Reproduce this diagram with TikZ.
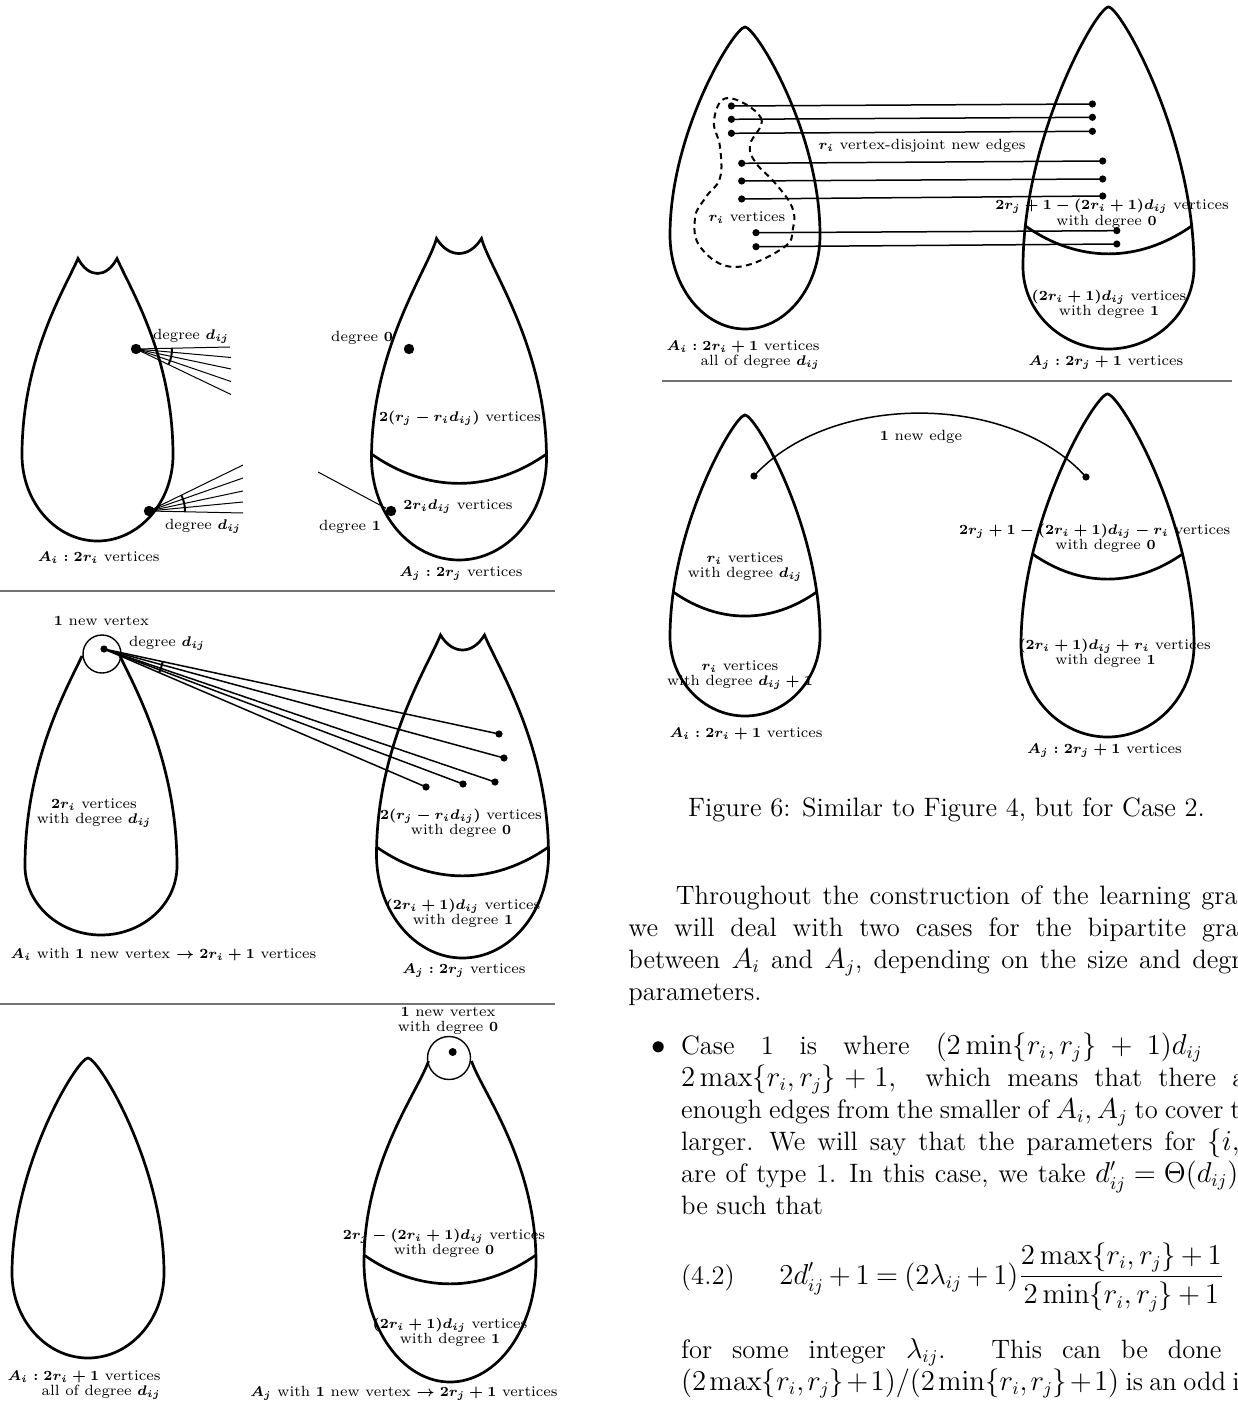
\documentclass[tikz,border=0pt]{standalone}
\usepackage{amsmath}
\usetikzlibrary{intersections}
\newcommand\bmth[1]{{\boldmath$#1$}}
% round-topped teardrop: name cx yt ym yb w
\newcommand\roundblob[6]{%
\draw[blob,name path=#1] (#2,#3)
 .. controls ({#2-0.14*#6},#3) and ({#2-#6},{#4-0.5*(#4-#3)}) .. ({#2-#6},#4)
 .. controls ({#2-#6},{#4+0.55*(#5-#4)}) and ({#2-0.55*#6},#5) .. (#2,#5)
 .. controls ({#2+0.55*#6},#5) and ({#2+#6},{#4+0.55*(#5-#4)}) .. ({#2+#6},#4)
 .. controls ({#2+#6},{#4-0.5*(#4-#3)}) and ({#2+0.14*#6},#3) .. cycle;}
% notched teardrop: name cx yt ym yb w n dx dy
\newcommand\notchblob[9]{%
\draw[blob,name path=#1] ({#2-#7},#3)
 .. controls ({#2-#7-#8},{#3+#9}) and ({#2-#6},{#4-0.5*(#4-#3)}) .. ({#2-#6},#4)
 .. controls ({#2-#6},{#4+0.55*(#5-#4)}) and ({#2-0.55*#6},#5) .. (#2,#5)
 .. controls ({#2+0.55*#6},#5) and ({#2+#6},{#4+0.55*(#5-#4)}) .. ({#2+#6},#4)
 .. controls ({#2+#6},{#4-0.5*(#4-#3)}) and ({#2+#7+#8},{#3+#9}) .. ({#2+#7},#3)
 .. controls ({#2+0.45*#7},{#3+20}) and ({#2-0.45*#7},{#3+20}) .. cycle;}
% open-topped teardrop (below a circle)
\newcommand\circblob[9]{%
\draw[blob,name path=#1] ({#2-#7},#3)
 .. controls ({#2-#7-#8},{#3+#9}) and ({#2-#6},{#4-0.5*(#4-#3)}) .. ({#2-#6},#4)
 .. controls ({#2-#6},{#4+0.55*(#5-#4)}) and ({#2-0.55*#6},#5) .. (#2,#5)
 .. controls ({#2+0.55*#6},#5) and ({#2+#6},{#4+0.55*(#5-#4)}) .. ({#2+#6},#4)
 .. controls ({#2+#6},{#4-0.5*(#4-#3)}) and ({#2+#7+#8},{#3+#9}) .. ({#2+#7},#3);}
% divider: blob name, y, cx, w
\newcommand\divider[4]{%
\path[name path=hl#1] ({#3-#4-40},#2) -- ({#3+#4+40},#2);
\path[name intersections={of=#1 and hl#1, by={#1L,#1R}, sort by=hl#1}];
\draw[blob] (#1L) to[bend right=35] (#1R);}
\tikzset{
 blob/.style={line width=1.35pt, line join=miter},
 thinline/.style={line width=0.5pt},
 edgeline/.style={line width=0.75pt},
 vbig/.style={circle,fill,inner sep=0pt,minimum size=5.2pt},
 vsmall/.style={circle,fill,inner sep=0pt,minimum size=3.6pt},
 ring/.style={circle,draw,line width=0.7pt,inner sep=0pt},
 lab/.style={font=\fontsize{7.4}{7.4}\selectfont, inner sep=0pt, align=center},
 body/.style={font=\fontsize{13.3}{16}\selectfont, inner sep=0pt, anchor=base west},
 rulestyle/.style={line width=1pt, draw=black!55},
 degarc/.style={line width=1pt},
 region/.style={line width=1pt, dash pattern=on 3pt off 2.2pt},
}
\begin{document}
\begin{tikzpicture}[x=0.5pt,y=-0.5pt]
\path[use as bounding box] (0,0) rectangle (1237,1406);
\clip (0,0) rectangle (1237,1406);

%% ---------------- Panel 1 ----------------
\notchblob{pai}{97.5}{258.5}{455}{541}{75.5}{19.5}{13}{30}
\notchblob{paj}{459}{238.5}{458}{560}{87.5}{22.5}{8}{30}
\divider{paj}{454}{459}{87.5}

\node[vbig] (u0) at (136,349) {};
\coordinate (u1) at (230,347);
\coordinate (u2) at (231,357.5);
\coordinate (u3) at (231,369);
\coordinate (u4) at (231,381.5);
\coordinate (u5) at (231,394.5);
\foreach \k in {1,...,5} \draw[thinline] (u0.center) -- (u\k);
\begin{scope}
\clip (u0.center) -- (u1) -- (u5) -- cycle;
\draw[degarc] (u0.center) circle[radius=36];
\end{scope}

\node[vbig] (l0) at (149,511) {};
\coordinate (l1) at (243,465);
\coordinate (l2) at (243,478);
\coordinate (l3) at (243,491);
\coordinate (l4) at (243,502);
\coordinate (l5) at (243,513);
\foreach \k in {1,...,5} \draw[thinline] (l0.center) -- (l\k);
\begin{scope}
\clip (l0.center) -- (l1) -- (l5) -- cycle;
\draw[degarc] (l0.center) circle[radius=36];
\end{scope}

\node[vbig] (dz) at (409,349) {};
\node[vbig] (done) at (391,511) {};
\coordinate (donefree) at (318,472);
\draw[thinline] (donefree) -- (done);

\node[lab] (lp1a) at (191,336) {degree \bmth{d_{ij}}};
\node[lab] (lp1b) at (203,526) {degree \bmth{d_{ij}}};
\node[lab] (lp1c) at (98.7,558) {\bmth{A_i : 2r_i} vertices};
\node[lab] (lp1d) at (362,338) {degree \bmth{0}};
\node[lab] (lp1e) at (460,418) {\bmth{2(r_j - r_i d_{ij})} vertices};
\node[lab] (lp1f) at (458,507) {\bmth{2r_i d_{ij}} vertices};
\node[lab] (lp1g) at (350,527) {degree \bmth{1}};
\node[lab] (lp1h) at (461,574) {\bmth{A_j : 2r_j} vertices};

\draw[rulestyle] (0,591) -- (555,591);

%% ---------------- Panel 2 ----------------
\node[ring,minimum size=19pt] (c2) at (102,654) {};
\circblob{pbi}{101}{656}{866}{935}{76}{19}{14}{30}
\notchblob{pbj}{462.5}{635}{855}{958}{86}{22}{12}{30}
\divider{pbj}{847}{462.5}{86}

\node[vsmall] (v2) at (104,649) {};
\node[vsmall] (w1) at (499,734) {};
\node[vsmall] (w2) at (504,758) {};
\node[vsmall] (w3) at (495,782) {};
\node[vsmall] (w4) at (463,784) {};
\node[vsmall] (w5) at (426,787) {};
\foreach \k in {1,...,5} \draw[edgeline] (v2.center) -- (w\k.center);
\begin{scope}
\clip (v2.center) -- (w1.center) -- (w5.center) -- cycle;
\draw[degarc] (v2.center) circle[radius=60];
\end{scope}

\node[lab] (lp2a) at (101.4,621) {\bmth{1} new vertex};
\node[lab] (lp2b) at (167,643) {degree \bmth{d_{ij}}};
\node[lab] (lp2c) at (94,813) {\bmth{2r_i} vertices\\ with degree \bmth{d_{ij}}};
\node[lab] (lp2d) at (163.5,955) {\bmth{A_i} with \bmth{1} new vertex \bmth{\rightarrow 2r_i+1} vertices};
\node[lab] (lp2e) at (461,823) {\bmth{2(r_j - r_i d_{ij})} vertices\\ with degree \bmth{0}};
\node[lab] (lp2f) at (463,913) {\bmth{(2r_i+1)d_{ij}} vertices\\ with degree \bmth{1}};
\node[lab] (lp2g) at (464,971) {\bmth{A_j : 2r_j} vertices};

\draw[rulestyle] (0,1004) -- (555,1004);

%% ---------------- Panel 3 ----------------
\roundblob{pci}{88}{1058}{1273}{1358}{76}
\node[ring,minimum size=21.5pt] (c3) at (449,1058) {};
\circblob{pcj}{450}{1061}{1262}{1382}{86}{21.5}{10}{30}
\divider{pcj}{1255}{450}{86}
\node[vbig,minimum size=4pt] (v3) at (452.7,1052) {};

\node[lab] (lp3a) at (448,1021) {\bmth{1} new vertex\\ with degree \bmth{0}};
\node[lab] (lp3b) at (444,1243) {\bmth{2r_j - (2r_i+1)d_{ij}} vertices\\ with degree \bmth{0}};
\node[lab] (lp3c) at (450,1332) {\bmth{(2r_i+1)d_{ij}} vertices\\ with degree \bmth{1}};
\node[lab,align=right,anchor=east] (lp3d) at (161,1385) {\bmth{A_i : 2r_i + 1} vertices\\ all of degree \bmth{d_{ij}}};
\node[lab] (lp3e) at (404,1393) {\bmth{A_j} with \bmth{1} new vertex \bmth{\rightarrow 2r_j+1} vertices};

%% ---------------- Right column, top ----------------
\roundblob{rai}{745}{27}{235}{329}{75}
\roundblob{raj}{1108.5}{7}{267}{349}{85.5}
\divider{raj}{226}{1108.5}{85.5}

\draw[region] plot[smooth cycle, tension=0.7] coordinates {(727.6,98) (761,118) (750,145) (756,163) (775,183) (792,207) (793,228) (783,248) (735,267) (701,248) (695,218) (706,197) (720,178) (720,147) (714,120)};

\foreach \k/\xa/\ya/\xb/\yb in {1/731.4/106/1092.4/104, 2/731.4/119.3/1092.4/117.3, 3/731.4/133.3/1092.4/131.3, 4/741.7/163.3/1102.7/161, 5/741.7/181/1102.7/179, 6/741.7/199/1102.7/196, 7/756/232.7/1116.8/230.7, 8/756/246.7/1116.8/244}{
 \node[vsmall] (a\k) at (\xa,\ya) {};
 \node[vsmall] (b\k) at (\xb,\yb) {};
 \draw[edgeline] (a\k.center) -- (b\k.center);
}

\node[lab] (lr1a) at (922,146) {\bmth{r_i} vertex-disjoint new edges};
\node[lab] (lr1b) at (747,218) {\bmth{r_i} vertices};
\node[lab] (lr1c) at (1112,206) {\bmth{2r_j + 1 - (2r_i+1)d_{ij}} vertices};
\node[lab] (lr1c2) at (1106.5,221.5) {with degree \bmth{0}};
\node[lab] (lr1d) at (1109,304) {\bmth{(2r_i+1)d_{ij}} vertices\\ with degree \bmth{1}};
\node[lab,align=right,anchor=east] (lr1e) at (820,355) {\bmth{A_i : 2r_i + 1} vertices\\ all of degree \bmth{d_{ij}}};
\node[lab] (lr1f) at (1106,363) {\bmth{A_j : 2r_j+1} vertices};

\draw[rulestyle] (662,381) -- (1232,381);

%% ---------------- Right column, second ----------------
\roundblob{rbi}{745}{415}{637}{716}{75}
\divider{rbi}{592}{745}{75}
\roundblob{rbj}{1107.5}{394}{645}{737}{86.5}
\divider{rbj}{554}{1107.5}{86.5}

\node[vsmall] (e1) at (754,476) {};
\node[vsmall] (e2) at (1086,477) {};
\draw[edgeline] (e1.center) .. controls (830,392) and (1010,392) .. (e2.center);

\node[lab] (lr2a) at (921,437) {\bmth{1} new edge};
\node[lab] (lr2b) at (745,567) {\bmth{r_i} vertices\\ with degree \bmth{d_{ij}}};
\node[lab] (lr2c) at (740,675) {\bmth{r_i} vertices\\ with degree \bmth{d_{ij}+1}};
\node[lab] (lr2d) at (746,734) {\bmth{A_i : 2r_i+1} vertices};
\node[lab] (lr2e) at (1094.7,531) {\bmth{2r_j + 1 - (2r_i+1)d_{ij} - r_i} vertices};
\node[lab] (lr2e2) at (1105.5,545.5) {with degree \bmth{0}};
\node[lab] (lr2f) at (1114.7,646) {\bmth{(2r_i+1)d_{ij} + r_i} vertices};
\node[lab] (lr2f2) at (1105.5,661) {with degree \bmth{1}};
\node[lab] (lr2g) at (1104.5,751) {\bmth{A_j : 2r_j+1} vertices};

%% ---------------- Caption and body text ----------------
\node[body,anchor=base] (cap) at (946.5,816) {Figure 6: Similar to Figure 4, but for Case 2.};

\node[body] (t1) at (675.4,904) {\hbox to 262.8pt{Throughout\hfil the\hfil construction\hfil of\hfil the\hfil learning\hfil}graph};
\node[body] (t2) at (628,936) {\hbox to 286.85pt{we\hfil will\hfil deal\hfil with\hfil two\hfil cases\hfil for\hfil the\hfil bipartite\hfil}graph};
\node[body] (t3) at (628,968) {\hbox to 282pt{between\hfil $A_i$\hfil and\hfil $A_j$,\hfil depending\hfil on\hfil the\hfil size\hfil and\hfil}degree};
\node[body] (t4) at (628,1000) {parameters.};

\node[body] (bul) at (651,1054) {$\bullet$};
\node[body] (b1) at (680.7,1054) {\hbox to 232.9pt{Case\hfil 1\hfil is\hfil where\hfil $(2\min\{r_i,r_j\}$\hskip 0pt plus .55fil$+$\hskip 0pt plus .55fil}$1)d_{ij}$};
\node[body] (b2) at (680.7,1086) {\hbox to 275.65pt{$2\max\{r_i,r_j\}$\hskip 0pt plus .5fil$+$\hskip 0pt plus .5fil$1,$\hskip 0pt plus 1.8fil which\hfil means\hfil that\hfil there\hfil}are};
\node[body] (b3) at (680.7,1118) {\hbox to 274.65pt{enough\hfil edges\hfil from\hfil the\hfil smaller\hfil of\hfil $A_i, A_j$\hfil to\hfil cover\hfil}the};
\node[body] (b4) at (680.7,1150) {\hbox to 263.35pt{larger.\hskip 0pt plus 1.3fil We\hfil will\hfil say\hfil that\hfil the\hfil parameters\hfil for\hfil}$\{i,j\}$};
\node[body] (b5) at (680.7,1182) {\hbox to 207.15pt{are\hfil of\hfil type\hfil 1.\hskip 0pt plus 1.3fil In\hfil this\hfil case,\hfil we\hfil take\hfil}$d'_{ij}=\Theta(d_{ij})$ to};
\node[body] (b6) at (680.7,1214) {be such that};

\node[body] (eqn) at (680.7,1284) {(4.2)};
\node[body] (eqb) at (779,1284) {\medmuskip=3mu\thickmuskip=4mu$\displaystyle 2d'_{ij}+1=(2\lambda_{ij}+1)\frac{2\max\{r_i,r_j\}+1}{2\min\{r_i,r_j\}+1}$};

\node[body] (f1) at (680.7,1358) {\hbox to 243.35pt{for\hfil some\hfil integer\hfil $\lambda_{ij}$.\hskip 0pt plus 2.3fil This\hfil can\hfil be\hfil}done};
\node[body] (f2) at (680.7,1390) {\medmuskip=1.5mu\thinmuskip=2mu\spaceskip=3.2pt\relax $(2\max\{r_i,r_j\}+1)/(2\min\{r_i,r_j\}+1)$ is an odd integer};
\end{tikzpicture}
\end{document}
